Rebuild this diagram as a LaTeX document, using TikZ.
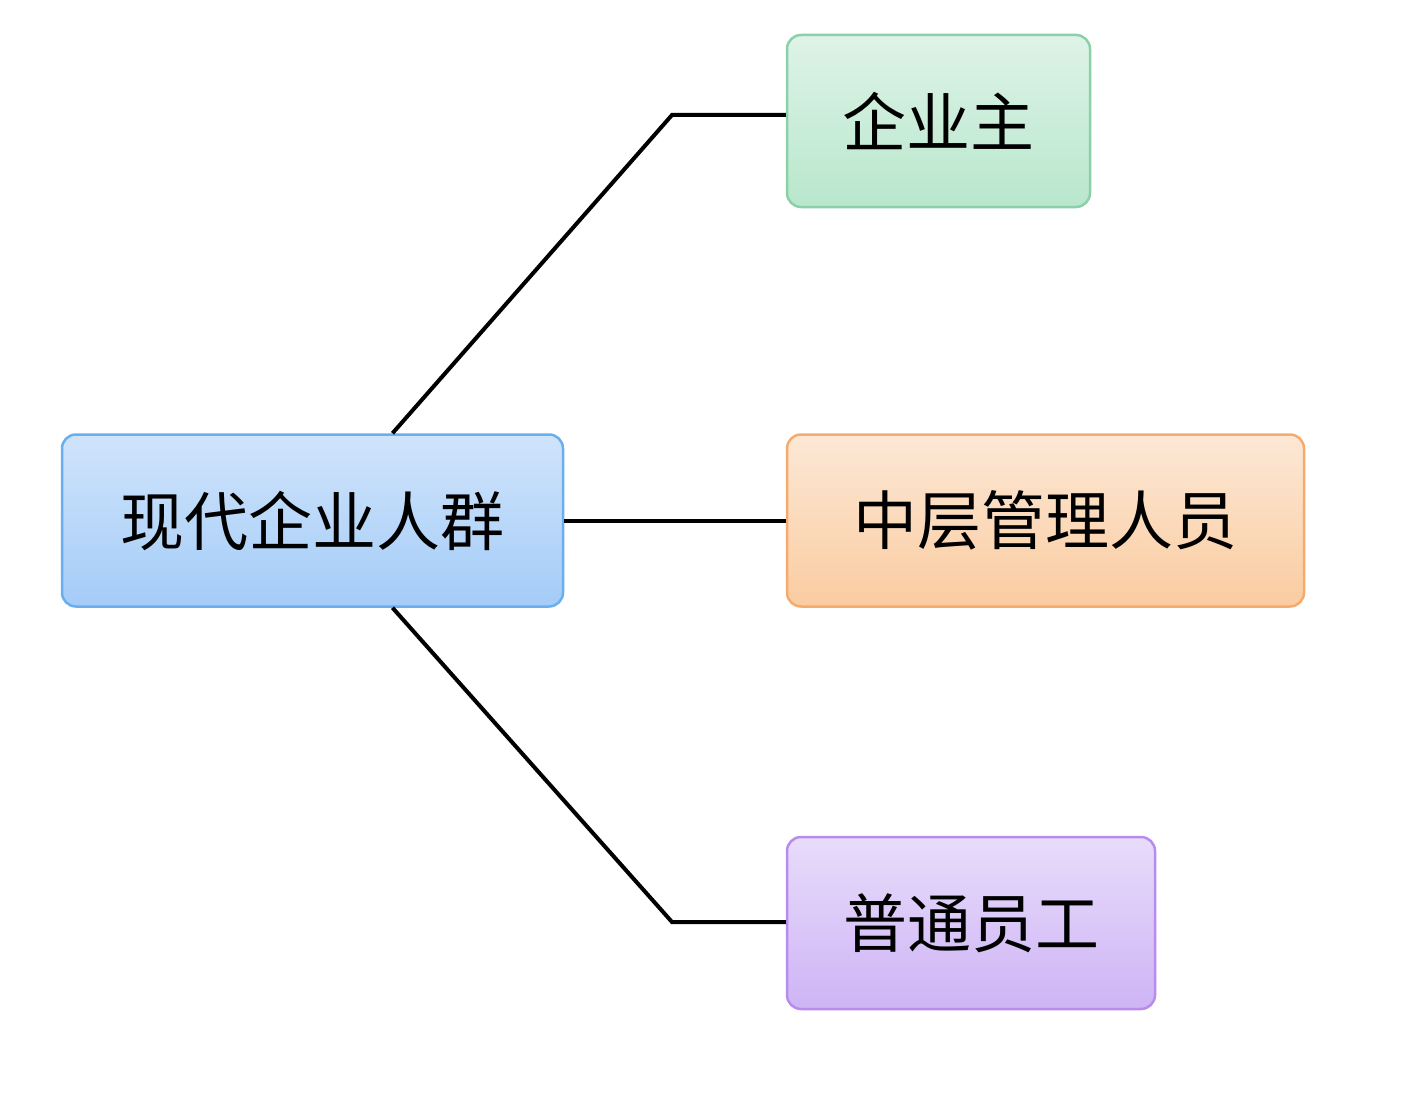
\documentclass[tikz,border=0pt]{standalone}
\usepackage{fontspec}
\newfontfamily\cjk{Noto Sans CJK SC}
\begin{document}
\begin{tikzpicture}[x=1pt, y=-1pt,
		box_style/.style={draw, line width=2.5pt, rounded corners=14pt, inner sep=0pt,
			minimum height=172pt, font=\cjk\fontsize{64}{70}\selectfont},
		root_style/.style={box_style, draw={rgb,255:red,106;green,174;blue,240},
			top color={rgb,255:red,208;green,228;blue,251}, bottom color={rgb,255:red,164;green,204;blue,248}},
		green_style/.style={box_style, draw={rgb,255:red,140;green,208;blue,170},
			top color={rgb,255:red,222;green,243;blue,231}, bottom color={rgb,255:red,184;green,231;blue,204}},
		orange_style/.style={box_style, draw={rgb,255:red,246;green,170;blue,110},
			top color={rgb,255:red,252;green,232;blue,214}, bottom color={rgb,255:red,250;green,204;blue,160}},
		purple_style/.style={box_style, draw={rgb,255:red,184;green,140;blue,236},
			top color={rgb,255:red,232;green,220;blue,250}, bottom color={rgb,255:red,206;green,180;blue,246}},
		edge_style/.style={draw=black, line width=4pt}]
		
		\useasboundingbox (0,0) rectangle (1407,1118);
		
		\node[root_style, minimum width=501pt] (root) at (312.5,520.5) {现代企业人群};
		\node[green_style, minimum width=303pt] (owner) at (938.5,121) {企业主};
		\node[orange_style, minimum width=517pt] (middle) at (1045.5,520.5) {中层管理人员};
		\node[purple_style, minimum width=368pt] (staff) at (971,923) {普通员工};
		
		\coordinate (k1) at (672,115);
		\coordinate (k2) at (672,922);
		
		\draw[edge_style] ([xshift=80pt]root.north) -- (k1) -- (owner.west |- k1);
		\draw[edge_style] (root.east) -- (middle.west);
		\draw[edge_style] ([xshift=80pt]root.south) -- (k2) -- (staff.west |- k2);
		
\end{tikzpicture}
\end{document}
